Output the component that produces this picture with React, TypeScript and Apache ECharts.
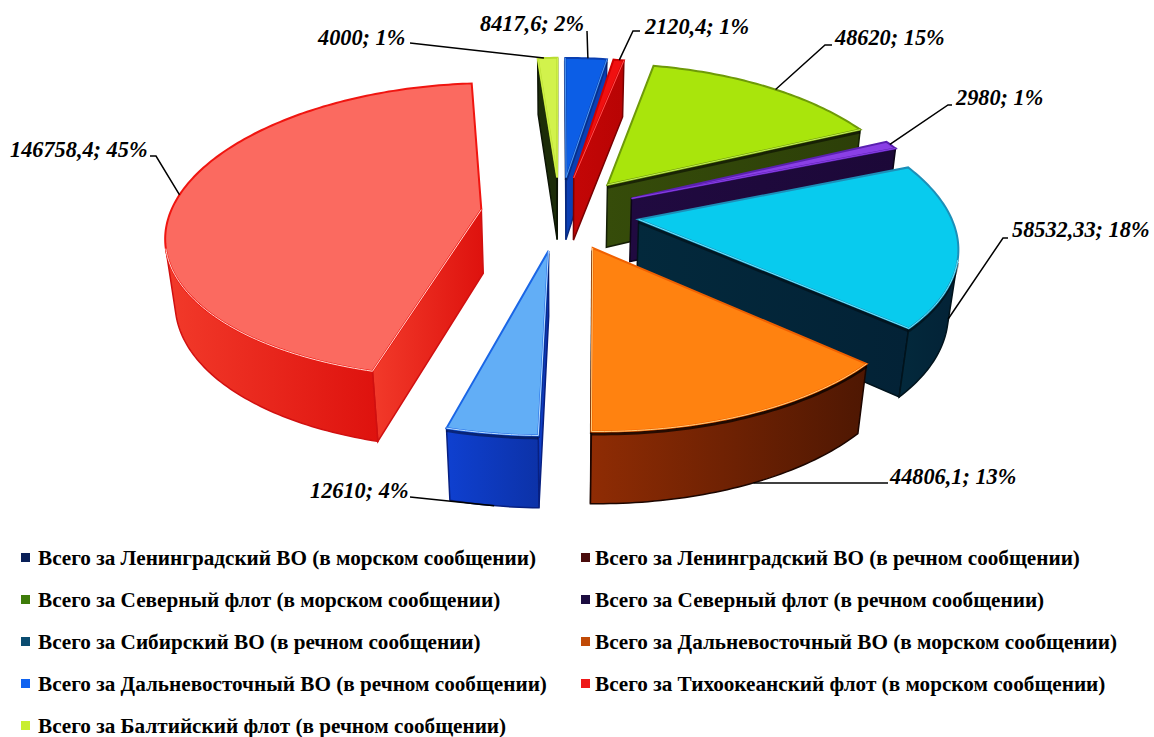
import React, { useEffect, useRef } from "react";
import * as echarts from "echarts";

// Series names, in legend order
const names = [
  "Всего за Ленинградский ВО (в морском сообщении)",
  "Всего за Ленинградский ВО (в речном сообщении)",
  "Всего за Северный флот (в морском сообщении)",
  "Всего за Северный флот (в речном сообщении)",
  "Всего за Сибирский ВО (в речном сообщении)",
  "Всего за Дальневосточный ВО (в морском сообщении)",
  "Всего за Дальневосточный ВО (в речном сообщении)",
  "Всего за Тихоокеанский флот (в морском сообщении)",
  "Всего за Балтийский флот (в речном сообщении)",
];
const values = [8417.6, 2120.4, 48620, 2980, 58532.33, 44806.1, 12610, 146758.4, 4000];
const percents = [2, 1, 15, 1, 18, 13, 4, 45, 1];

// Slice colours
const topColors = ["#0C5EE6", "#F01010", "#A9E50C", "#8A3FE6", "#08CBEE", "#FF8210", "#62AEF6", "#FB6A60", "#D2F24C"];
const rimColors = ["#0A3FB0", "#D00000", "#6E9A08", "#5A20B0", "#1C8FB8", "#F06000", "#1A66E6", "#F01510", "#B8DC30"];
const wallColors: [string, string][] = [
  ["#0B3FB4", "#0B3FB4"],
  ["#C40606", "#B80404"],
  ["#364C0A", "#2C3F08"],
  ["#200A40", "#1C0838"],
  ["#03293C", "#032236"],
  ["#8F2C04", "#4E1702"],
  ["#0F40D0", "#0C32A8"],
  ["#F23A2A", "#DE120E"],
  ["#1C2C08", "#1C2C08"],
];
const bevelColors = ["#4F9BF2", "#FF5050", "#C8F060", "#8A3FE6", "#70E8FF", "#FFD080", "#BFE0FF", "#FFD8D0", "#D2F24C"];
const wallStrokes = ["#082A80", "#7A0000", "#141E04", "#0C0418", "#01131C", "#1C0600", "#082080", "#D01010", "#0C1404"];
const edgeShade = [0.25, 0, 0.5, 0, 0.4, 0.7, 0.4, 0, 0];
const legendColors = ["#0A2058", "#4A0C0C", "#3E7C0A", "#1C0C40", "#0A4C70", "#C04A06", "#0F62F0", "#EE1818", "#C8EE30"];

// Back slices are painted first so the nearer ones cover them
const paintRank = [1, 2, 3, 4, 5, 6, 7, 8, 0];

// Label origin and leader path; each leader ends on the slice at the given angle,
// on the top rim or on the lower edge of the outer wall
const labelPos: [number, number][] = [
  [480, 23], [645, 26], [835, 37], [956, 97], [1012, 229], [890, 476], [310, 490], [10, 149], [318, 37],
];
const leaderElbows: [number, number][][] = [
  [[587, 31]],
  [[640, 31], [633, 31]],
  [[832, 45], [825, 45]],
  [[952, 105], [948, 105]],
  [[1008, 238], [1003, 238]],
  [[888, 483]],
  [[410, 497]],
  [[150, 156], [156, 156]],
  [[410, 43]],
];
const leaderAngles = [5, 10.5, 40, 66, 103, 155, 188, 276, 357];
const leaderOnBase = [false, false, false, false, true, true, true, false, false];

// Projection of the exploded pie: perspective seen from above the front edge,
// with a small bow that lowers the middle of the plate
const cam = { cx: 560, cy: 209, scale: 311, persp: 0.16, tilt: 0.465, depth: 0.21, drop: 0.025, explode: 0.255, bow: 4 };
const total = values.reduce((a, b) => a + b, 0);
const rad = (d: number) => (d * Math.PI) / 180;

function project(x: number, y: number, bottom: boolean): [number, number] {
  const s = cam.scale / (1 - cam.persp * y + (bottom ? cam.drop : 0));
  const bow = cam.bow * (1 - (y * y) / 1.5625);
  return [cam.cx + s * x, cam.cy + bow + s * (cam.tilt * y + (bottom ? cam.depth : 0))];
}

function shoelace(p: number[][]) {
  let a = 0;
  for (let i = 0; i < p.length; i++) {
    const q = p[(i + 1) % p.length];
    a += p[i][0] * q[1] - q[0] * p[i][1];
  }
  return a;
}

function sliceSpan(i: number) {
  let start = 0;
  for (let k = 0; k < i; k++) start += (values[k] / total) * 360;
  return [start, start + (values[i] / total) * 360];
}

function renderSlice(i: number) {
  const [a0, a1] = sliceSpan(i);
  const mid = rad((a0 + a1) / 2);
  const ex = cam.explode * Math.sin(mid);
  const ey = -cam.explode * Math.cos(mid);
  const rim = (deg: number, bottom: boolean) =>
    project(ex + Math.sin(rad(deg)), ey - Math.cos(rad(deg)), bottom);
  const apex = (bottom: boolean) => project(ex, ey, bottom);

  const steps = Math.max(2, Math.ceil(a1 - a0));
  const angles: number[] = [];
  for (let k = 0; k <= steps; k++) angles.push(a0 + ((a1 - a0) * k) / steps);

  const children: any[] = [];
  const wallFill = {
    type: "linear", x: 0, y: 0, x2: 1, y2: 0,
    colorStops: [
      { offset: 0, color: wallColors[i][0] },
      { offset: 1, color: wallColors[i][1] },
    ],
  };
  const bevels: number[][][] = [];
  const addWall = (top: number[][], bot: number[][]) => {
    children.push({
      type: "polygon",
      shape: { points: [...top, ...bot.slice().reverse()] },
      style: { fill: wallFill, stroke: wallStrokes[i], lineWidth: 1.5 },
    });
    bevels.push(top);
    // Dark band just under the top edge of the wall
    if (edgeShade[i] > 0) {
      children.push({
        type: "polyline",
        shape: { points: top.map((p) => [p[0], p[1] + 2.5]) },
        style: { fill: "none", stroke: "#000", opacity: edgeShade[i], lineWidth: 3 },
      });
    }
  };

  // Radial cut walls, each drawn only when it faces the viewer
  const cut = (pTop: number[], qTop: number[], pBot: number[], qBot: number[]) => {
    if (shoelace([pTop, qTop, qBot, pBot]) < 0) addWall([pTop, qTop], [pBot, qBot]);
  };
  cut(apex(false), rim(a0, false), apex(true), rim(a0, true));
  cut(rim(a1, false), apex(false), rim(a1, true), apex(true));

  // Curved outer wall: the contiguous run of segments facing the viewer
  let runTop: number[][] = [];
  let runBot: number[][] = [];
  const flush = () => {
    if (runTop.length > 1) addWall(runTop, runBot);
    runTop = [];
    runBot = [];
  };
  for (let k = 0; k < steps; k++) {
    const p = rim(angles[k], false);
    const q = rim(angles[k + 1], false);
    const pb = rim(angles[k], true);
    const qb = rim(angles[k + 1], true);
    if (shoelace([p, q, qb, pb]) < 0) {
      if (!runTop.length) {
        runTop.push(p);
        runBot.push(pb);
      }
      runTop.push(q);
      runBot.push(qb);
    } else flush();
  }
  flush();

  // Top face
  children.push({
    type: "polygon",
    shape: { points: [apex(false), ...angles.map((d) => rim(d, false))] },
    style: { fill: topColors[i], stroke: rimColors[i], lineWidth: 2, lineJoin: "miter" },
  });
  bevels.forEach((pts) =>
    children.push({
      type: "polyline",
      shape: { points: pts },
      style: { fill: "none", stroke: bevelColors[i], lineWidth: 1 },
    })
  );

  // Leader line and value label
  const anchor = rim(leaderAngles[i], leaderOnBase[i]);
  const label = String(values[i]).replace(".", ",") + "; " + percents[i] + "%";
  children.push({
    type: "polyline",
    shape: { points: [...leaderElbows[i], anchor] },
    style: { fill: "none", stroke: "#000", lineWidth: 1.5 },
  });
  children.push({
    type: "text",
    x: labelPos[i][0],
    y: labelPos[i][1],
    style: {
      text: label,
      fill: "#000",
      fontFamily: "Liberation Serif",
      fontSize: 22.3,
      fontWeight: "bold",
      fontStyle: "italic",
      verticalAlign: "middle",
    },
  });
  return { type: "group", children };
}

function legendColumn(indices: number[], left: number, gap: number) {
  return {
    show: true,
    orient: "vertical",
    left,
    top: 547,
    padding: 0,
    height: 190,
    itemWidth: 9,
    itemHeight: 9,
    itemGap: 21,
    selectedMode: false,
    textStyle: {
      fontFamily: "Liberation Serif",
      fontWeight: "bold",
      fontSize: 21.2,
      color: "#000",
      padding: [0, 0, 0, gap],
    },
    data: indices.map((k) => ({
      name: names[k],
      icon: "rect",
      itemStyle: { color: legendColors[k], borderWidth: 0 },
    })),
  };
}

export default function App() {
  const ref = useRef<HTMLDivElement>(null);
  useEffect(() => {
    const chart = echarts.init(ref.current!, undefined, { renderer: "svg" });
    chart.setOption({
      animation: false,
      backgroundColor: "#fff",
      legend: [legendColumn([0, 2, 4, 6, 8], 21, 3), legendColumn([1, 3, 5, 7], 581, 0)],
      series: values.map((v, i) => ({
        type: "custom",
        name: names[i],
        coordinateSystem: "none",
        silent: true,
        z: 2 + paintRank[i],
        itemStyle: { color: legendColors[i] },
        data: [[v]],
        renderItem: () => renderSlice(i),
      })),
    });
    return () => chart.dispose();
  }, []);
  return <div ref={ref} style={{ position: "absolute", left: 0, top: 0, width: 1154, height: 737 }} />;
}
